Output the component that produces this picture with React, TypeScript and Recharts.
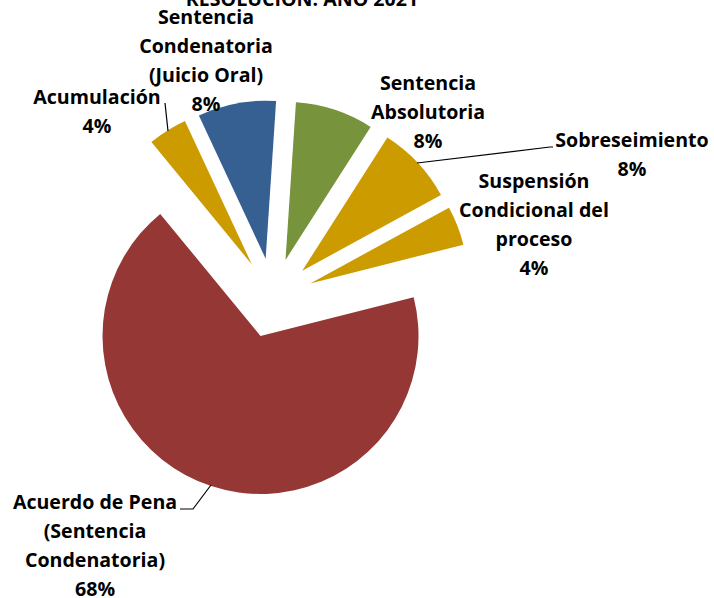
import { Cell, Pie, PieChart, Sector } from 'recharts';

// slices in clockwise order, starting just right of 12 o'clock
const categories = [
  'Sentencia Absolutoria',
  'Sobreseimiento',
  'Suspensión Condicional del proceso',
  'Acuerdo de Pena (Sentencia Condenatoria)',
  'Acumulación',
  'Sentencia Condenatoria (Juicio Oral)',
];
const shares = [8, 8, 4, 68, 4, 8];
const labelLines = [
  ['Sentencia', 'Absolutoria'],
  ['Sobreseimiento'],
  ['Suspensión', 'Condicional del', 'proceso'],
  ['Acuerdo de Pena', '(Sentencia', 'Condenatoria)'],
  ['Acumulación'],
  ['Sentencia', 'Condenatoria', '(Juicio Oral)'],
];
const colors = ['#77933c', '#cc9b00', '#cc9b00', '#953735', '#cc9b00', '#366092'];

const data = categories.map((name, i) => ({ name, value: shares[i] }));

const EXPLODE = 40;
const FONT = '"Open Sans", Lato, sans-serif';
const FONT_SIZE = 19.6;
const LINE_H = 29;

// label anchor (center x, first baseline y) and optional leader line points
const labelPos: { x: number; y: number; leader?: number[][] }[] = [
  { x: 428, y: 90 },
  { x: 632, y: 147, leader: [[417, 163], [550, 147], [553, 147]] },
  { x: 534, y: 188 },
  { x: 95, y: 509, leader: [[211, 485], [193, 509], [180, 509]] },
  { x: 97, y: 104, leader: [[168, 131], [165, 103]] },
  { x: 206, y: 24 },
];

const ExplodedSector = (props: any) => {
  const { cx, cy, midAngle, innerRadius, outerRadius, startAngle, endAngle, fill } = props;
  const rad = (-midAngle * Math.PI) / 180;
  return (
    <Sector
      cx={cx + EXPLODE * Math.cos(rad)}
      cy={cy + EXPLODE * Math.sin(rad)}
      innerRadius={innerRadius}
      outerRadius={outerRadius}
      startAngle={startAngle}
      endAngle={endAngle}
      fill={fill}
      stroke="none"
    />
  );
};

const renderLabel = (props: any) => {
  const { index, value } = props;
  const pos = labelPos[index];
  const lines = [...labelLines[index], `${value}%`];
  return (
    <g key={`lbl-${index}`}>
      {pos.leader && (
        <polyline
          points={pos.leader.map((p) => p.join(',')).join(' ')}
          fill="none"
          stroke="#000"
          strokeWidth={1.2}
        />
      )}
      <text textAnchor="middle" fontFamily={FONT} fontWeight="bold" fontSize={FONT_SIZE} fill="#000">
        {lines.map((t, i) => (
          <tspan key={i} x={pos.x} y={pos.y + i * LINE_H}>
            {t}
          </tspan>
        ))}
      </text>
    </g>
  );
};

export default function App() {
  return (
    <div style={{ position: 'fixed', left: 0, top: 0, width: 714, height: 598, background: '#fff' }}>
      <PieChart width={714} height={598} margin={{ top: 0, right: 0, bottom: 0, left: 0 }}>
        <text x={302} y={6} textAnchor="middle" fontFamily={FONT} fontWeight="bold" fontSize={FONT_SIZE} fill="#000">
          RESOLUCIÓN: AÑO 2021
        </text>
        <Pie
          data={data}
          dataKey="value"
          nameKey="name"
          cx={273}
          cy={298}
          outerRadius={158}
          startAngle={86.2}
          endAngle={-273.8}
          stroke="none"
          shape={ExplodedSector}
          activeShape={ExplodedSector}
          label={renderLabel}
          labelLine={false}
          isAnimationActive={false}
        >
          {data.map((d, i) => (
            <Cell key={d.name} fill={colors[i]} />
          ))}
        </Pie>
      </PieChart>
    </div>
  );
}
